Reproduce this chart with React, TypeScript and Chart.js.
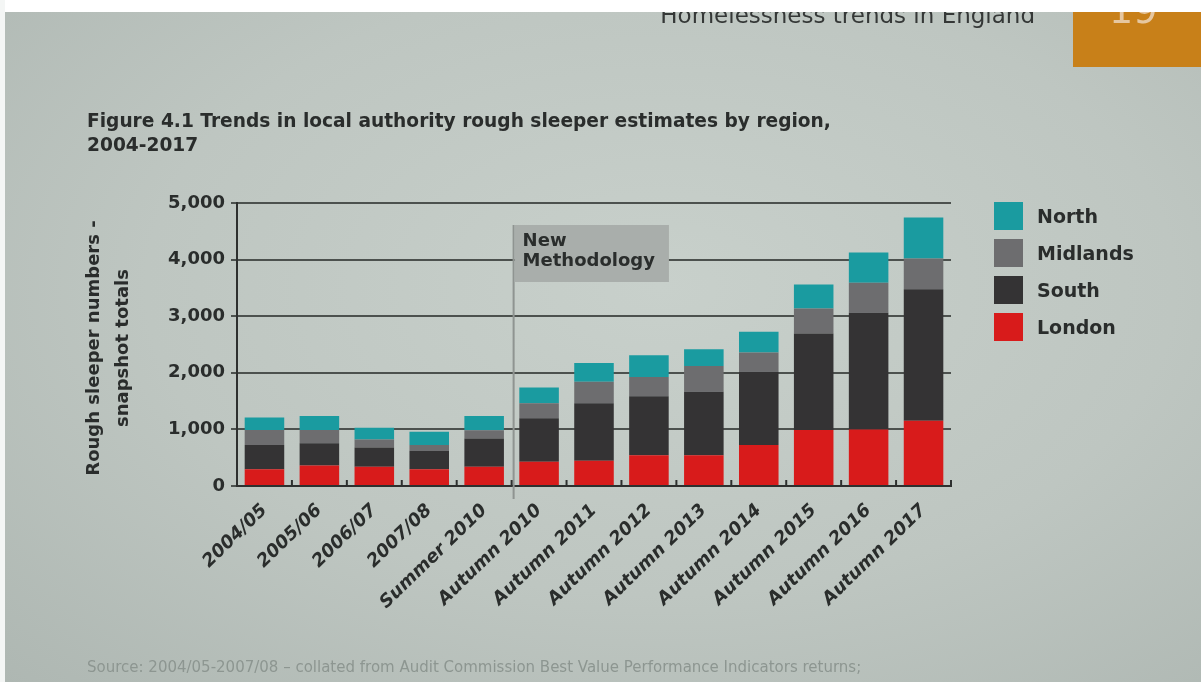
import React, { useEffect, useRef } from "react";
import { Chart, registerables } from "chart.js";

Chart.register(...registerables);

const categories = [
  "2004/05",
  "2005/06",
  "2006/07",
  "2007/08",
  "Summer 2010",
  "Autumn 2010",
  "Autumn 2011",
  "Autumn 2012",
  "Autumn 2013",
  "Autumn 2014",
  "Autumn 2015",
  "Autumn 2016",
  "Autumn 2017",
];
const london = [295, 360, 340, 295, 340, 430, 445, 545, 545, 725, 990, 1000, 1155];
const south = [430, 395, 340, 330, 500, 765, 1015, 1040, 1120, 1295, 1705, 2060, 2320];
const midlands = [265, 235, 140, 100, 145, 265, 380, 340, 455, 340, 440, 530, 545];
const north = [220, 245, 210, 235, 250, 280, 335, 385, 295, 365, 425, 535, 725];
const yTicks = [0, 1000, 2000, 3000, 4000, 5000];

const seriesNames = ["London", "South", "Midlands", "North"];
const seriesValues = [london, south, midlands, north];
const seriesColors = ["#d81b1b", "#343334", "#6d6d6f", "#1a9ba0"];

const FONT = "'DejaVu Sans', sans-serif";
const TEXT = "#2a2d2c";

export default function App() {
  const ref = useRef<HTMLCanvasElement | null>(null);

  useEffect(() => {
    if (!ref.current) return;
    const methodology = {
      id: "methodology",
      beforeDatasetsDraw(chart: any) {
        const { ctx, chartArea } = chart;
        const xs = chart.scales.x;
        const lineX = (xs.getPixelForValue(4) + xs.getPixelForValue(5)) / 2 + 2;
        const top = chartArea.top + 22;
        ctx.save();
        ctx.font = `bold 18px ${FONT}`;
        const w = ctx.measureText("Methodology").width + 22;
        ctx.strokeStyle = "#8f9491";
        ctx.lineWidth = 2;
        ctx.beginPath();
        ctx.moveTo(lineX, top);
        ctx.lineTo(lineX, chartArea.bottom + 13);
        ctx.stroke();
        ctx.fillStyle = "#a9aeab";
        ctx.fillRect(lineX + 1, top, w, 57);
        ctx.fillStyle = TEXT;
        ctx.textBaseline = "alphabetic";
        ctx.textAlign = "left";
        ctx.fillText("New", lineX + 9, top + 21);
        ctx.fillText("Methodology", lineX + 9, top + 41);
        ctx.restore();
      },
      afterDatasetsDraw(chart: any) {
        const { ctx, chartArea } = chart;
        const xs = chart.scales.x;
        ctx.save();
        ctx.strokeStyle = "#2e302f";
        ctx.lineWidth = 2;
        for (let i = 0; i <= categories.length; i++) {
          const x = xs.getPixelForValue(i - 0.5);
          ctx.beginPath();
          ctx.moveTo(x, chartArea.bottom);
          ctx.lineTo(x, chartArea.bottom - 6);
          ctx.stroke();
        }
        ctx.restore();
      },
    };

    const chart = new Chart(ref.current, {
      type: "bar",
      data: {
        labels: categories,
        datasets: seriesNames.map((name, i) => ({
          label: name,
          data: seriesValues[i],
          backgroundColor: seriesColors[i],
          borderWidth: 0,
          barPercentage: 0.72,
          categoryPercentage: 1,
        })),
      },
      options: {
        responsive: false,
        animation: false,
        layout: { padding: { left: 137, top: 203, right: 250, bottom: 66 } },
        plugins: { legend: { display: false }, tooltip: { enabled: false }, title: { display: false } },
        scales: {
          x: {
            stacked: true,
            afterFit: (axis: any) => {
              axis.height = 130;
            },
            grid: { display: true, color: "rgba(0,0,0,0)", drawTicks: false },
            border: { display: true, color: "#2e302f", width: 2 },
            ticks: {
              color: TEXT,
              minRotation: 44,
              maxRotation: 44,
              autoSkip: false,
              padding: 14,
              font: { family: FONT, weight: "bold", style: "italic", size: 18 },
            },
          },
          y: {
            stacked: true,
            min: yTicks[0],
            max: yTicks[yTicks.length - 1],
            afterFit: (axis: any) => {
              axis.width = 100;
            },
            afterBuildTicks: (axis: any) => {
              axis.ticks = yTicks.map((v) => ({ value: v }));
            },
            grid: { color: "#4c514e", lineWidth: 2, tickLength: 6, tickColor: "#4c514e" },
            border: { display: true, color: "#2e302f", width: 2 },
            ticks: {
              color: TEXT,
              padding: 6,
              font: { family: FONT, weight: "bold", size: 18 },
              callback: (v: any) => Number(v).toLocaleString("en-US"),
            },
          },
        },
      },
      plugins: [methodology],
    });
    return () => chart.destroy();
  }, []);

  const legendItems = seriesNames.map((n, i) => ({ name: n, color: seriesColors[i] })).reverse();

  return (
    <div
      style={{
        position: "fixed",
        left: 0,
        top: 0,
        width: 1201,
        height: 682,
        overflow: "hidden",
        background:
          "radial-gradient(ellipse at 55% 42%, #c8d0cb 0%, #bec6c1 55%, #aeb7b2 100%)",
        fontFamily: FONT,
        color: TEXT,
      }}
    >
      <div
        style={{
          position: "absolute",
          right: 166,
          top: 4,
          fontSize: 23,
          lineHeight: "23px",
          color: "#353837",
          whiteSpace: "nowrap",
          textAlign: "right",
        }}
      >
        Homelessness trends in England
      </div>
      <div
        style={{
          position: "absolute",
          left: 1073,
          top: 12,
          width: 140,
          height: 55,
          background: "#c88019",
        }}
      >
        <div
          style={{
            position: "absolute",
            left: 36,
            top: -24,
            fontSize: 38,
            color: "#e6c7a0",
            whiteSpace: "nowrap",
          }}
        >
          19
        </div>
      </div>
      <div style={{ position: "absolute", left: 0, top: 0, width: 1201, height: 12, background: "#ffffff" }} />
      <div style={{ position: "absolute", left: 0, top: 0, width: 5, height: 682, background: "#f4f6f5" }} />

      <div
        style={{
          position: "absolute",
          left: 87,
          top: 109,
          fontWeight: "bold",
          fontSize: 18.6,
          lineHeight: "24px",
          whiteSpace: "nowrap",
        }}
      >
        Figure 4.1 Trends in local authority rough sleeper estimates by region,
        <br />
        2004-2017
      </div>

      <div
        style={{
          position: "absolute",
          left: 107,
          top: 348,
          transform: "translate(-50%, -50%) rotate(-90deg)",
          fontWeight: "bold",
          fontSize: 18,
          lineHeight: "29px",
          textAlign: "center",
          whiteSpace: "nowrap",
        }}
      >
        Rough sleeper numbers -
        <br />
        snapshot totals
      </div>

      <canvas
        ref={ref}
        width={1201}
        height={682}
        style={{ position: "absolute", left: 0, top: 0, width: 1201, height: 682 }}
      />

      <div style={{ position: "absolute", left: 994, top: 197 }}>
        {legendItems.map((it) => (
          <div key={it.name} style={{ display: "flex", alignItems: "center", height: 37 }}>
            <div style={{ width: 29, height: 28, background: it.color }} />
            <div style={{ marginLeft: 14, fontWeight: "bold", fontSize: 19 }}>{it.name}</div>
          </div>
        ))}
      </div>

      <div
        style={{
          position: "absolute",
          left: 87,
          top: 658,
          fontSize: 15,
          color: "#8d9691",
          whiteSpace: "nowrap",
        }}
      >
        Source: 2004/05-2007/08 – collated from Audit Commission Best Value Performance Indicators returns;
      </div>
    </div>
  );
}
